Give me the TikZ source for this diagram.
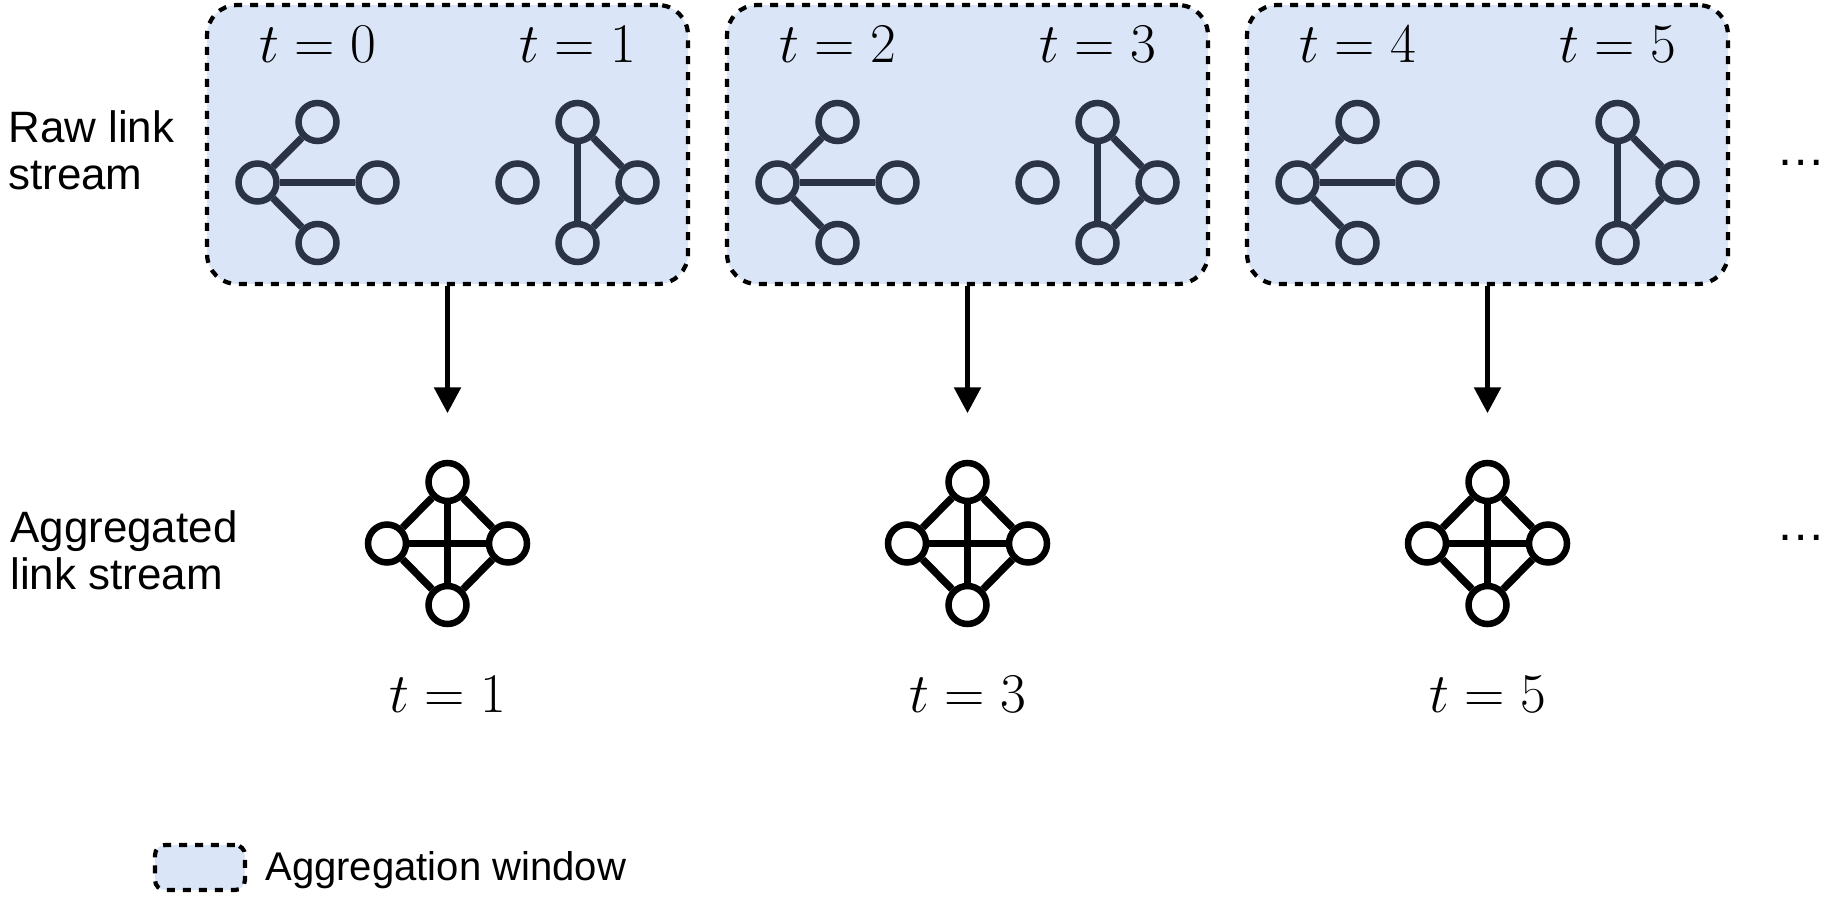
\RequirePackage{fix-cm}
\documentclass[tikz,border=0pt]{standalone}
\usepackage{fontspec}
\newfontfamily\labelfont{Liberation Sans}
\usepackage{tikz}
\usetikzlibrary{arrows.meta, positioning}
\usepackage{xcolor}

\definecolor{winfill}{HTML}{DAE6F7}
\definecolor{graphline}{HTML}{2B3446}

\begin{document}
\begin{tikzpicture}[
    x=0.02cm,
    y=-0.02cm,
    window/.style={
        draw=black,
        fill=winfill,
        rectangle,
        rounded corners=0.6cm,
        dash pattern=on 0.16cm off 0.16cm,
        line width=2.4pt,
        minimum width=9.62cm,
        minimum height=5.58cm,
        inner sep=0pt
    },
    vtx/.style={
        draw=graphline,
        circle,
        minimum size=0.76cm,
        inner sep=0pt,
        line width=3.7pt
    },
    avtx/.style={
        vtx,
        draw=black,
        fill=white
    },
    edge/.style={
        line width=4.1pt,
        draw=graphline
    },
    aedge/.style={
        line width=4.2pt,
        draw=black
    },
    arrow/.style={
        -{Triangle[length=0.52cm,width=0.52cm]},
        line width=3.2pt,
        draw=black,
        shorten >=0.93cm
    },
    tlabel/.style={
        font=\fontsize{31.9pt}{36pt}\selectfont,
        inner sep=0pt,
        anchor=base
    },
    rowlabel/.style={
        font=\labelfont\fontsize{25pt}{26.7pt}\selectfont,
        align=left,
        inner sep=0pt,
        anchor=north west
    },
    dots/.style={
        font=\labelfont\fontsize{28pt}{30pt}\selectfont,
        inner sep=0pt,
        anchor=base
    },
    keylabel/.style={
        font=\labelfont\fontsize{22.8pt}{24pt}\selectfont,
        inner sep=0pt,
        anchor=base west
    }
]
\useasboundingbox (0,0) rectangle (1836,900);

% ============================================================
% Windows: raw snapshots above, aggregated graph below
% ============================================================

\foreach \k/\cx in {0/447.5,1/967.5,2/1487.5} {
    \pgfmathtruncatemacro{\ta}{2*\k}
    \pgfmathtruncatemacro{\tb}{2*\k+1}

    \node[window] (w\k) at (\cx,144.5) {};

    % star snapshot
    \node[vtx] (h\k) at ({\cx-190},182.5) {};
    \node[vtx] (ht\k) at ({\cx-130},122) {};
    \node[vtx] (hr\k) at ({\cx-70},182.5) {};
    \node[vtx] (hb\k) at ({\cx-130},243) {};
    \draw[edge] (h\k) -- (ht\k);
    \draw[edge] (h\k) -- (hr\k);
    \draw[edge] (h\k) -- (hb\k);

    % triangle snapshot
    \node[vtx] (i\k) at ({\cx+70},182.5) {};
    \node[vtx] (gt\k) at ({\cx+130},122) {};
    \node[vtx] (gr\k) at ({\cx+190},182.5) {};
    \node[vtx] (gb\k) at ({\cx+130},243) {};
    \draw[edge] (gt\k) -- (gb\k);
    \draw[edge] (gt\k) -- (gr\k);
    \draw[edge] (gr\k) -- (gb\k);

    \node[tlabel] (ta\k) at ({\cx-130},62) {$t=\ta$};
    \node[tlabel] (tb\k) at ({\cx+130},62) {$t=\tb$};

    % aggregated graph
    \node[avtx] (at\k) at (\cx,482) {};
    \node[avtx] (al\k) at ({\cx-60.5},543.5) {};
    \node[avtx] (ar\k) at ({\cx+60.5},543.5) {};
    \node[avtx] (ab\k) at (\cx,605) {};
    \draw[aedge] (at\k) -- (al\k);
    \draw[aedge] (at\k) -- (ar\k);
    \draw[aedge] (al\k) -- (ab\k);
    \draw[aedge] (ar\k) -- (ab\k);
    \draw[aedge] (at\k) -- (ab\k);
    \draw[aedge] (al\k) -- (ar\k);

    \node[tlabel] (tc\k) at (\cx,712) {$t=\tb$};

    \draw[arrow] (w\k.south) -- (at\k.north);
}

% ============================================================
% Row labels and continuation dots
% ============================================================

\node[rowlabel] (rawlbl) at (8,110) {Raw link\\stream};
\node[rowlabel] (agglbl) at (10,510.5) {Aggregated\\link stream};

\node[dots] (more1) at (1801,165.5) {…};
\node[dots] (more2) at (1801,540) {…};

% ============================================================
% Legend
% ============================================================

\node[window, minimum width=1.8cm, minimum height=0.9cm,
      rounded corners=0.2cm] (key) at (200,867.5) {};
\node[keylabel] (keytxt) at (265,880) {Aggregation window};
\end{tikzpicture}
\end{document}
